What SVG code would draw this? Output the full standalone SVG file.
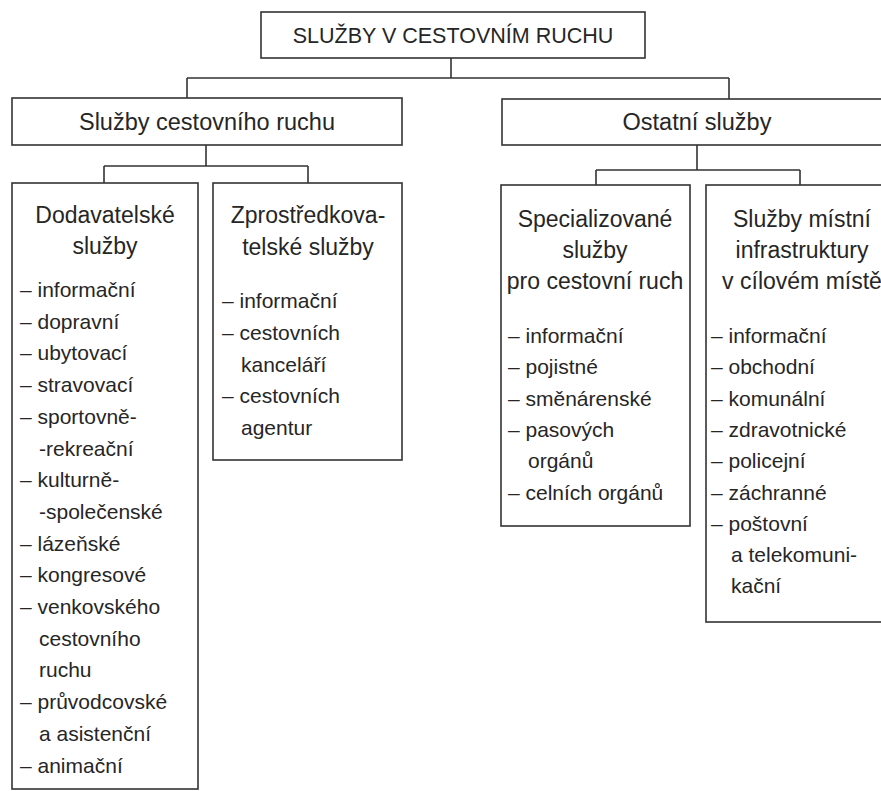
<svg xmlns="http://www.w3.org/2000/svg" width="881" height="791" viewBox="0 0 881 791">
<style>
.box{fill:#fff;stroke:#333;stroke-width:1.6}
.ln{fill:none;stroke:#333;stroke-width:1.6}
text{font-family:"Liberation Sans",Arial,sans-serif;fill:#262626}
.t{font-size:21.5px;text-anchor:middle}
.h1{font-size:23.5px;text-anchor:middle}
.h{font-size:23px;text-anchor:middle}
.i{font-size:21px}
</style>
<rect width="881" height="791" fill="#fff"/>
<g id="connectors">
<path class="ln" d="M451 58V78M187 78H729M187 78V98M729 78V99"/>
<path class="ln" d="M206 145V166M104 166H308M104 166V183M308 166V183"/>
<path class="ln" d="M697 145V170M596 170H800M596 170V185M800 170V185"/>
</g>
<g id="root">
<rect class="box" x="261" y="12" width="384" height="46"/>
<text class="t" x="453" y="43">SLUŽBY V CESTOVNÍM RUCHU</text>
</g>
<g id="sluzby-cr">
<rect class="box" x="12" y="98" width="390" height="47"/>
<text class="h1" x="207" y="130">Služby cestovního ruchu</text>
</g>
<g id="ostatni">
<rect class="box" x="502" y="99" width="392" height="46"/>
<text class="h1" x="697" y="130">Ostatní služby</text>
</g>
<g id="dodavatelske">
<rect class="box" x="12" y="183" width="186" height="606"/>
<text class="h" x="105" y="223">Dodavatelské</text>
<text class="h" x="105" y="254">služby</text>
<g class="i">
<text x="20" y="297">– informační</text>
<text x="20" y="328.7">– dopravní</text>
<text x="20" y="360.4">– ubytovací</text>
<text x="20" y="392.1">– stravovací</text>
<text x="20" y="423.8">– sportovně-</text>
<text x="39" y="455.5">-rekreační</text>
<text x="20" y="487.2">– kulturně-</text>
<text x="39" y="518.9">-společenské</text>
<text x="20" y="550.6">– lázeňské</text>
<text x="20" y="582.3">– kongresové</text>
<text x="20" y="614">– venkovského</text>
<text x="39" y="645.7">cestovního</text>
<text x="39" y="677.4">ruchu</text>
<text x="20" y="709.1">– průvodcovské</text>
<text x="39" y="740.8">a asistenční</text>
<text x="20" y="772.5">– animační</text>
</g>
</g>
<g id="zprostredkovatelske">
<rect class="box" x="213" y="183" width="189" height="277"/>
<text class="h" x="308" y="223">Zprostředkova-</text>
<text class="h" x="308" y="255">telské služby</text>
<g class="i">
<text x="222" y="308">– informační</text>
<text x="222" y="340">– cestovních</text>
<text x="241" y="371.5">kanceláří</text>
<text x="222" y="403">– cestovních</text>
<text x="241" y="435">agentur</text>
</g>
</g>
<g id="specializovane">
<rect class="box" x="501" y="185" width="189" height="341"/>
<text class="h" x="595" y="227">Specializované</text>
<text class="h" x="595" y="258">služby</text>
<text class="h" x="595" y="289">pro cestovní ruch</text>
<g class="i">
<text x="508" y="343">– informační</text>
<text x="508" y="374.3">– pojistné</text>
<text x="508" y="405.6">– směnárenské</text>
<text x="508" y="436.9">– pasových</text>
<text x="528" y="468.2">orgánů</text>
<text x="508" y="499.5">– celních orgánů</text>
</g>
</g>
<g id="mistni">
<rect class="box" x="706" y="185" width="190" height="437"/>
<text class="h" x="802" y="227">Služby místní</text>
<text class="h" x="802" y="258">infrastruktury</text>
<text class="h" x="802" y="289">v cílovém místě</text>
<g class="i">
<text x="711" y="343">– informační</text>
<text x="711" y="374.3">– obchodní</text>
<text x="711" y="405.6">– komunální</text>
<text x="711" y="436.9">– zdravotnické</text>
<text x="711" y="468.2">– policejní</text>
<text x="711" y="499.5">– záchranné</text>
<text x="711" y="530.8">– poštovní</text>
<text x="731" y="562.1">a telekomuni-</text>
<text x="731" y="593.4">kační</text>
</g>
</g>
</svg>
